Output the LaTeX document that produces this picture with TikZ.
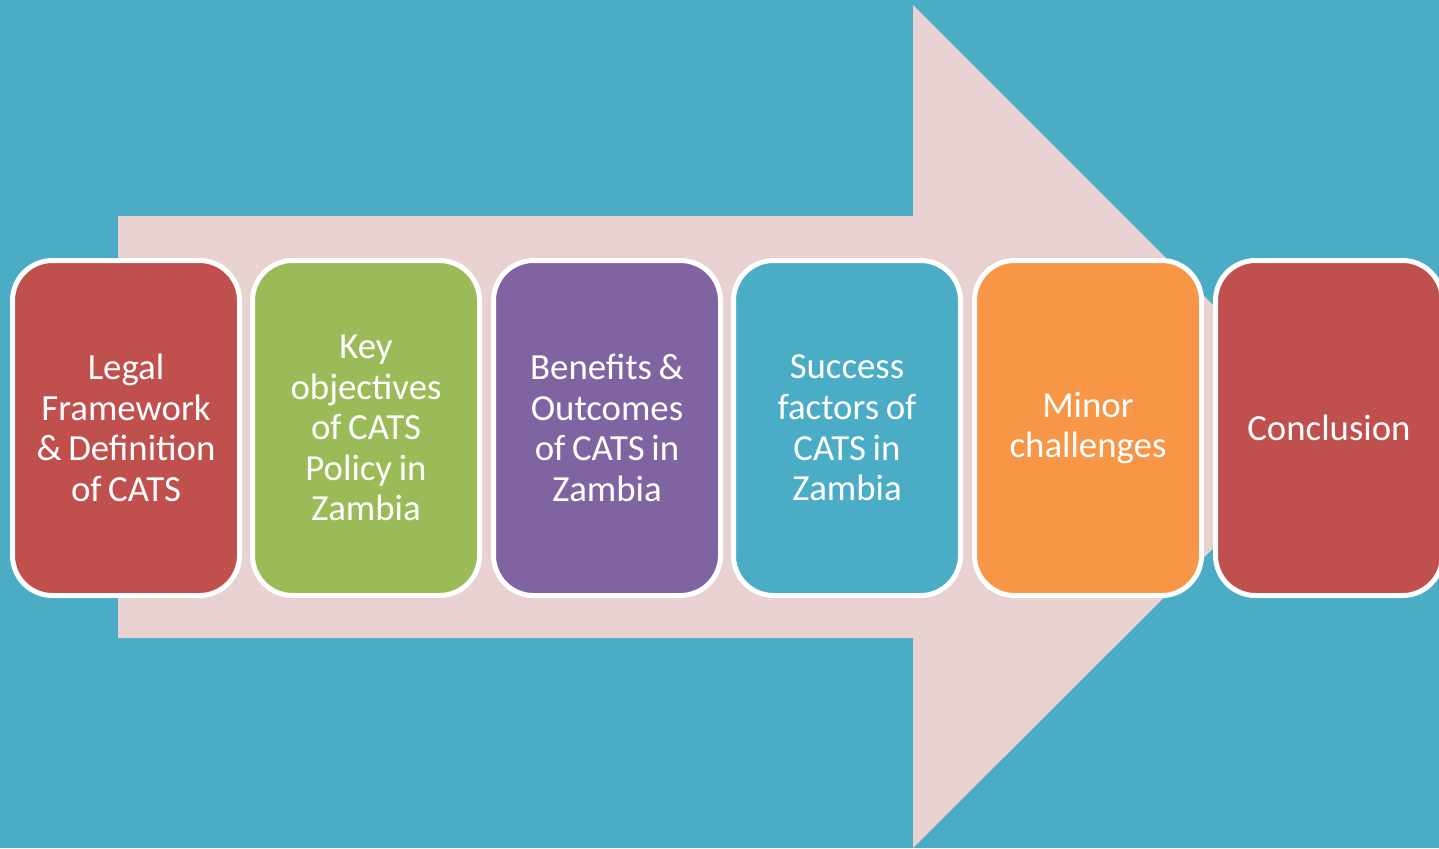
\documentclass[tikz,border=0pt]{standalone}
\usepackage{fontspec}
\setmainfont{Carlito}[WordSpace=0.8]
\usepackage{xcolor}
\definecolor{seablue}{HTML}{4BACC6}
\definecolor{palepink}{HTML}{E7D1D1}
\definecolor{brickred}{HTML}{C0504D}
\definecolor{leafgreen}{HTML}{9BBB59}
\definecolor{plum}{HTML}{8064A2}
\definecolor{tangerine}{HTML}{F79646}

\begin{document}
\begin{tikzpicture}[x=0.5pt, y=-0.5pt,
    stage/.style={draw=white, line width=2.5pt, rounded corners=20pt,
      minimum width=113.5pt, minimum height=167.5pt,
      align=center, text=white, font=\fontsize{18.4}{20.3}\selectfont}]
      \useasboundingbox (0,0) rectangle (1439,848);
      \clip (0,0) rectangle (1439,848);
      \fill[seablue] (0,0) rectangle (1439,848);
      \fill[palepink] (118,216) -- (913,216) -- (913,5) -- (1335,427) -- (913,848) -- (913,638) -- (118,638) -- cycle;
      \node[stage, fill=brickred] (legal) at (126,428) {Legal\\Framework\\\& Definition\\of CATS};
      \node[stage, fill=leafgreen] (objectives) at (366,428) {Key\\objectives\\of CATS\\Policy in\\Zambia};
      \node[stage, fill=plum] (benefits) at (607,428) {Benefits \&\\Outcomes\\of CATS in\\Zambia};
      \node[stage, fill=seablue] (success) at (847,428) {Success\\factors of\\CATS in\\Zambia};
      \node[stage, fill=tangerine] (challenges) at (1088,428) {Minor\\challenges};
      \node[stage, fill=brickred] (conclusion) at (1329,428) {Conclusion};
    \end{tikzpicture}
\end{document}
